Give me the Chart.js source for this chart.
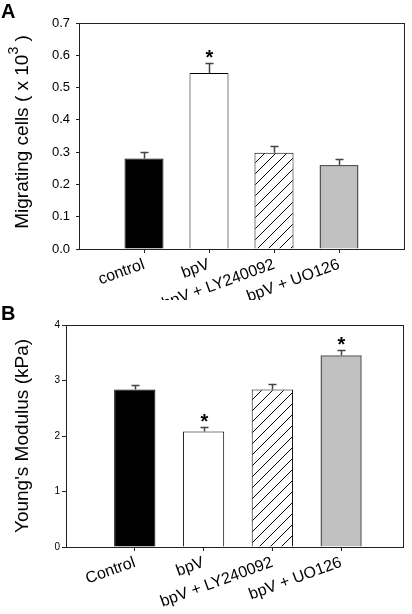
<!DOCTYPE html>
<html>
<head>
<meta charset="utf-8">
<script src="https://cdn.jsdelivr.net/npm/chart.js@4/dist/chart.umd.min.js"></script>
<style>
  body { margin: 0; background: #fff; }
  .panel { position: absolute; left: 0; width: 412px; }
  .tag { position: absolute; left: 1px; font: bold 20px "Liberation Sans", Arial, sans-serif; }
</style>
</head>
<body>
<div class="panel" style="top:0;height:300px">
  <canvas id="chartA" width="412" height="300"></canvas>
</div>
<div class="panel" style="top:300px;height:314px">
  <canvas id="chartB" width="412" height="314"></canvas>
</div>
<div class="tag" style="top:0px">A</div>
<div class="tag" style="top:302px">B</div>
<script>
// panel A - migration
const groupsA = ['control', 'bpV', 'bpV + LY240092', 'bpV + UO126'];
const migrating = [0.28, 0.545, 0.298, 0.26];
const migratingErr = [0.02, 0.03, 0.02, 0.02];
const sigA = [false, true, false, false];

// panel B - stiffness
const groupsB = ['Control', 'bpV', 'bpV + LY240092', 'bpV + UO126'];
const modulus = [2.84, 2.08, 2.84, 3.455];
const modulusErr = [0.08, 0.075, 0.1, 0.09];
const sigB = [false, true, false, true];

const positions = [1, 2, 3, 4];
const FONT = '"Liberation Sans", Arial, sans-serif';

function hatch() {
    const c = document.createElement('canvas');
    c.width = 11; c.height = 11;
    const g = c.getContext('2d');
    g.fillStyle = '#fff';
    g.fillRect(0, 0, 11, 11);
    g.strokeStyle = '#000';
    g.lineWidth = 1;
    g.beginPath();
    g.moveTo(-1, 12); g.lineTo(12, -1);
    g.moveTo(-12, 12); g.lineTo(1, -1);
    g.moveTo(10, 12); g.lineTo(23, -1);
    g.stroke();
    return g.createPattern(c, 'repeat');
}

// y title with a real superscript: [text, size, raise]
function drawTitle(ctx, parts, x, y) {
    ctx.save();
    ctx.translate(x, y);
    ctx.rotate(-Math.PI / 2);
    ctx.fillStyle = '#000';
    ctx.textBaseline = 'alphabetic';
    ctx.textAlign = 'left';
    let total = 0;
    parts.forEach(p => { ctx.font = p[1] + 'px ' + FONT; total += ctx.measureText(p[0]).width; });
    let pos = -total / 2;
    parts.forEach(p => {
        ctx.font = p[1] + 'px ' + FONT;
        ctx.fillText(p[0], pos, -p[2]);
        pos += ctx.measureText(p[0]).width;
    });
    ctx.restore();
}

const extras = {
    id: 'extras',
    afterDraw(chart) {
        const ctx = chart.ctx;
        const a = chart.chartArea;
        const opts = chart.options.plugins.extras;
        const meta = chart.getDatasetMeta(0);
        const ys = chart.scales.y;
        ctx.save();
        ctx.strokeStyle = '#222';
        ctx.lineWidth = 1;
        ctx.strokeRect(Math.round(a.left) + 0.5, Math.round(a.top) + 0.5,
                       Math.round(a.right - a.left), Math.round(a.bottom - a.top));
        opts.values.forEach((v, i) => {
            const x = Math.round(meta.data[i].x) + 0.5;
            const y0 = ys.getPixelForValue(v);
            const y1 = Math.round(ys.getPixelForValue(v + opts.errors[i])) + 0.5;
            ctx.strokeStyle = '#444';
            ctx.lineWidth = 1.5;
            ctx.beginPath();
            ctx.moveTo(x, y0); ctx.lineTo(x, y1);
            ctx.moveTo(x - 4, y1); ctx.lineTo(x + 4, y1);
            ctx.stroke();
            if (opts.sig[i]) {
                ctx.fillStyle = '#000';
                ctx.font = 'bold 20px ' + FONT;
                ctx.textAlign = 'center';
                ctx.textBaseline = 'alphabetic';
                ctx.fillText('*', x, y1);
            }
        });
        ctx.restore();
        if (opts.titleParts) drawTitle(ctx, opts.titleParts, opts.titleX, opts.titleY);
    }
};

function panel(id, cfg) {
    const axisColor = '#222';
    return new Chart(document.getElementById(id), {
        type: 'bar',
        data: {
            datasets: [{
                data: cfg.values.map((v, i) => ({ x: positions[i], y: v })),
                backgroundColor: ['#000', '#fff', hatch(), '#c0c0c0'],
                borderColor: ['#000', '#000', '#000', '#555'],
                borderWidth: [1, 1, 1, 1.5],
                barPercentage: 0.6,
                categoryPercentage: 1
            }]
        },
        options: {
            responsive: false,
            animation: false,
            devicePixelRatio: 1,
            layout: { padding: cfg.padding },
            plugins: {
                legend: { display: false },
                tooltip: { enabled: false },
                extras: {
                    values: cfg.values, errors: cfg.errors, sig: cfg.sig,
                    titleParts: cfg.titleParts, titleX: cfg.titleX, titleY: cfg.titleY
                }
            },
            scales: {
                x: {
                    type: 'linear',
                    offset: false,
                    min: 0,
                    max: cfg.xMax,
                    afterBuildTicks: s => { s.ticks = positions.map(p => ({ value: p })); },
                    afterFit: s => { s.height = cfg.xHeight; },
                    border: { color: axisColor },
                    grid: { offset: false, drawOnChartArea: false, tickLength: 4, color: axisColor },
                    ticks: {
                        autoSkip: false,
                        minRotation: 20,
                        maxRotation: 20,
                        padding: 2,
                        color: '#000',
                        font: { family: FONT, size: 16 },
                        callback: v => cfg.groups[positions.indexOf(v)]
                    }
                },
                y: {
                    min: 0,
                    max: cfg.yMax,
                    afterFit: s => { s.width = cfg.yWidth; },
                    border: { color: axisColor },
                    grid: { drawOnChartArea: false, tickLength: cfg.yTick, color: axisColor },
                    ticks: {
                        stepSize: cfg.step,
                        padding: cfg.tickPad,
                        color: '#000',
                        font: { family: FONT, size: cfg.tickSize },
                        callback: cfg.fmt
                    },
                    title: {
                        display: !!cfg.title,
                        text: cfg.title,
                        color: '#000',
                        font: { family: FONT, size: 19 },
                        padding: { top: cfg.titlePad, bottom: 0 }
                    }
                }
            }
        },
        plugins: [extras]
    });
}

panel('chartA', {
    groups: groupsA, values: migrating, errors: migratingErr, sig: sigA,
    titleParts: [['Migrating cells ( x 10', 19, 0], ['3', 14, 10], [' )', 19, 0]],
    titleX: 28, titleY: 132,
    yMax: 0.7, step: 0.1, fmt: v => v.toFixed(1), tickSize: 13, tickPad: 6, yTick: 3,
    xMax: 5, yWidth: 79, xHeight: 51,
    padding: { top: 23, right: 8, left: 0, bottom: 0 }
});

panel('chartB', {
    groups: groupsB, values: modulus, errors: modulusErr, sig: sigB,
    title: "Young's Modulus (kPa)",
    yMax: 4, step: 1, fmt: v => String(v), tickSize: 10, tickPad: 2, yTick: 4,
    xMax: 4.9, yWidth: 66, xHeight: 67, titlePad: 11,
    padding: { top: 25, right: 9, left: 0, bottom: 0 }
});
</script>
</body>
</html>
